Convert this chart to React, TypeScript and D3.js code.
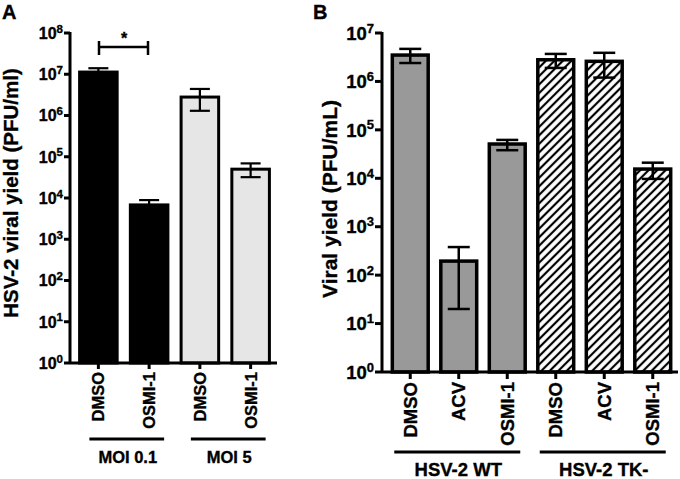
import React from "react";
import * as d3 from "d3";

const FONT = "'Liberation Sans', Arial, Helvetica, sans-serif";

// Panel A data
const catsA = ["DMSO", "OSMI-1", "DMSO", "OSMI-1"];
const valsA = [1.13e7, 6.8e3, 2.8e6, 5.0e4];
const errHiA = [1.4e7, 8.9e3, 4.4e6, 6.9e4];
const errLoA = [0.9e7, 5.0e3, 1.3e6, 3.2e4];
const groupsA = ["MOI 0.1", "MOI 5"];
const groupOfA = [0, 0, 1, 1];
const ticksA = [0, 1, 2, 3, 4, 5, 6, 7, 8];

// Panel B data
const catsB = ["DMSO", "ACV", "OSMI-1", "DMSO", "ACV", "OSMI-1"];
const valsB = [3.5e6, 195, 5.1e4, 2.8e6, 2.6e6, 1.55e4];
const errHiB = [4.7e6, 380, 6.2e4, 3.7e6, 3.9e6, 2.1e4];
const errLoB = [2.4e6, 20, 3.8e4, 1.9e6, 1.2e6, 9.7e3];
const groupsB = ["HSV-2 WT", "HSV-2 TK-"];
const groupOfB = [0, 0, 0, 1, 1, 1];
const ticksB = [0, 1, 2, 3, 4, 5, 6, 7];

type PanelCfg = {
  letter: string;
  letterX: number;
  cats: string[];
  vals: number[];
  hi: number[];
  lo: number[];
  groups: string[];
  groupOf: number[];
  ticks: number[];
  fills: string[];
  yTop: number;
  yBottom: number;
  axisX: number;
  xStart: number;
  xEnd: number;
  tickFont: number;
  supFont: number;
  xFont: number;
  groupFont: number;
  groupLineY: number;
  groupLabelY: number;
  groupL: number;
  groupR: number;
  title: string;
  titleX: number;
  titleY: number;
  titleFont: number;
  barStroke: number;
  errStroke: number;
  capW: number;
  padding: number;
  tickLen: number;
};

const TXT = { fontFamily: FONT, fontWeight: "bold" as const, stroke: "#000", strokeWidth: 0.35 };

function Panel({ c }: { c: PanelCfg }) {
  const maxExp = c.ticks[c.ticks.length - 1];
  const y = d3.scaleLog().domain([1, Math.pow(10, maxExp)]).range([c.yBottom, c.yTop]);
  const idx = c.cats.map((_, i) => String(i));
  const x = d3.scaleBand<string>().domain(idx).range([c.xStart, c.xEnd]).paddingInner(c.padding).paddingOuter(c.padding / 2);
  const bw = x.bandwidth();
  const cx = (i: number) => (x(String(i)) as number) + bw / 2;
  return (
    <g>
      <text x={c.letterX} y={19} {...TXT} fontSize={20}>{c.letter}</text>
      {c.cats.map((_, i) => (
        <rect key={"b" + i} x={x(String(i))} y={y(c.vals[i])} width={bw} height={c.yBottom - y(c.vals[i])}
          fill={c.fills[i]} stroke="#000" strokeWidth={c.barStroke} />
      ))}
      {c.cats.map((_, i) => (
        <g key={"e" + i} stroke="#000" strokeWidth={c.errStroke}>
          <line x1={cx(i)} x2={cx(i)} y1={y(c.lo[i])} y2={y(c.hi[i])} />
          <line x1={cx(i) - c.capW / 2} x2={cx(i) + c.capW / 2} y1={y(c.hi[i])} y2={y(c.hi[i])} />
          <line x1={cx(i) - c.capW / 2} x2={cx(i) + c.capW / 2} y1={y(c.lo[i])} y2={y(c.lo[i])} />
        </g>
      ))}
      {/* axes */}
      <line x1={c.axisX} x2={c.axisX} y1={c.yTop - 1} y2={c.yBottom} stroke="#000" strokeWidth={3} />
      <line x1={c.axisX} x2={c.xEnd + 1} y1={c.yBottom} y2={c.yBottom} stroke="#000" strokeWidth={3} />
      {c.ticks.map((e) => (
        <g key={"t" + e}>
          <line x1={c.axisX - c.tickLen} x2={c.axisX} y1={y(Math.pow(10, e))} y2={y(Math.pow(10, e))} stroke="#000" strokeWidth={3} />
          <text x={c.axisX - c.tickLen - 1} y={y(Math.pow(10, e)) + c.tickFont * 0.36} textAnchor="end"
            {...TXT} fontSize={c.tickFont}>
            10<tspan fontSize={c.supFont} dy={-c.tickFont * 0.38}>{e}</tspan>
          </text>
        </g>
      ))}
      {c.cats.map((lab, i) => (
        <g key={"x" + i}>
          <line x1={cx(i)} x2={cx(i)} y1={c.yBottom} y2={c.yBottom + c.tickLen} stroke="#000" strokeWidth={3} />
          <text transform={`translate(${cx(i)},${c.yBottom + c.tickLen + 3}) rotate(-90)`} textAnchor="end"
            dy="0.36em" {...TXT} fontSize={c.xFont}>{lab}</text>
        </g>
      ))}
      {c.groups.map((g, gi) => {
        const members = c.cats.map((_, i) => i).filter((i) => c.groupOf[i] === gi);
        const x1 = cx(members[0]) + c.groupL;
        const x2 = cx(members[members.length - 1]) + c.groupR;
        return (
          <g key={"g" + gi}>
            <line x1={x1} x2={x2} y1={c.groupLineY} y2={c.groupLineY} stroke="#000" strokeWidth={3} />
            <text x={(x1 + x2) / 2 + 1} y={c.groupLabelY} textAnchor="middle" {...TXT} fontSize={c.groupFont}>{g}</text>
          </g>
        );
      })}
      <text transform={`translate(${c.titleX},${c.titleY}) rotate(-90)`} textAnchor="middle"
        {...TXT} fontSize={c.titleFont}>{c.title}</text>
    </g>
  );
}

const cfgA: PanelCfg = {
  letter: "A", letterX: 2,
  cats: catsA, vals: valsA, hi: errHiA, lo: errLoA, groups: groupsA, groupOf: groupOfA, ticks: ticksA,
  fills: ["#000", "#000", "#e6e6e6", "#e6e6e6"],
  yTop: 33, yBottom: 363, axisX: 70, xStart: 73, xEnd: 276,
  tickFont: 16, supFont: 11.5, xFont: 16.5, groupFont: 16.5,
  groupLineY: 439, groupLabelY: 463, groupL: -9, groupR: 15,
  title: "HSV-2 viral yield (PFU/ml)", titleX: 18, titleY: 193, titleFont: 20.5,
  barStroke: 3, errStroke: 2.2, capW: 20, padding: 0.26, tickLen: 6,
};

const cfgB: PanelCfg = {
  letter: "B", letterX: 313,
  cats: catsB, vals: valsB, hi: errHiB, lo: errLoB, groups: groupsB, groupOf: groupOfB, ticks: ticksB,
  fills: ["#999", "#999", "#999", "url(#hatch)", "url(#hatch)", "url(#hatch)"],
  yTop: 33, yBottom: 372, axisX: 382, xStart: 386, xEnd: 677,
  tickFont: 18.5, supFont: 13, xFont: 18.5, groupFont: 18.5,
  groupLineY: 452, groupLabelY: 476, groupL: -16, groupR: 13,
  title: "Viral yield (PFU/mL)", titleX: 337, titleY: 199, titleFont: 21,
  barStroke: 3.5, errStroke: 2.5, capW: 22, padding: 0.26, tickLen: 7,
};

export default function App() {
  return (
    <svg width={680} height={479} style={{ position: "absolute", left: 0, top: 0, background: "#fff" }}>
      <defs>
        <pattern id="hatch" patternUnits="userSpaceOnUse" width={6} height={6} patternTransform="rotate(45)">
          <rect width={6} height={6} fill="#fff" />
          <line x1={3} y1={0} x2={3} y2={6} stroke="#000" strokeWidth={2.2} />
        </pattern>
      </defs>
      <rect width={680} height={479} fill="#fff" />
      <Panel c={cfgA} />
      <Panel c={cfgB} />
      {/* significance bracket */}
      <g stroke="#000" strokeWidth={2.5}>
        <line x1={99} x2={148} y1={47} y2={47} />
        <line x1={99} x2={99} y1={41} y2={55} />
        <line x1={148} x2={148} y1={41} y2={55} />
      </g>
      <text x={124} y={44} textAnchor="middle" {...TXT} fontSize={16}>*</text>
    </svg>
  );
}
